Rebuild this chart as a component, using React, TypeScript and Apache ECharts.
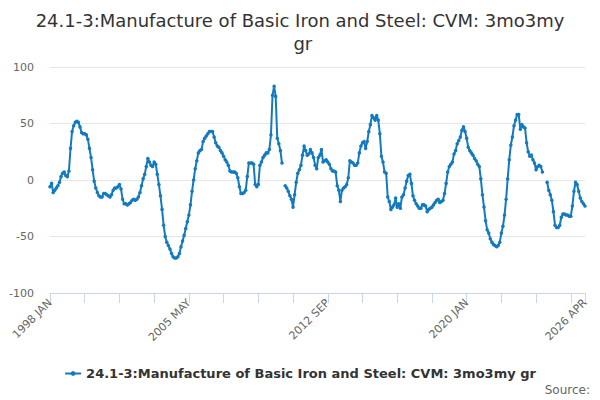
import React, { useEffect, useRef } from "react";
import * as echarts from "echarts";

const MONTHS = ["JAN", "FEB", "MAR", "APR", "MAY", "JUN", "JUL", "AUG", "SEP", "OCT", "NOV", "DEC"];
const START_YEAR = 1998;
const N_MONTHS = 340;
const categories: string[] = [];
for (let k = 0; k < N_MONTHS; k++) {
  categories.push(`${START_YEAR + Math.floor(k / 12)} ${MONTHS[k % 12]}`);
}

const seriesName = "24.1-3:Manufacture of Basic Iron and Steel: CVM: 3mo3my gr";
const titleText = "24.1-3:Manufacture of Basic Iron and Steel: CVM: 3mo3my gr";

const v1998_2002 = [
  -6, -3, -11, -9, -7, -5, -2, 3, 6, 7, 4, 3,
  8, 28, 43, 48, 51, 52, 51, 47, 42, 41, 41, 40,
  36, 28, 20, 9, -1, -7, -11, -14, -15, -15, -12, -12,
  -13, -14, -15, -13, -9, -7, -7, -6, -4, -8, -17, -21,
  -21, -22, -21, -20, -18, -17, -18, -17, -15, -11, -5, 1,
];
const v2003_2007 = [
  5, 12, 19, 16, 13, 12, 16, 14, 5, -4, -14, -26,
  -40, -50, -55, -58, -61, -65, -68, -69, -69, -68, -65, -59,
  -54, -49, -43, -37, -31, -22, -10, 0, 10, 17, 24, 26,
  27, 34, 37, 39, 41, 43, 43, 43, 38, 33, 30, 29,
  26, 24, 21, 18, 16, 13, 8, 7, 7, 7, 6, 2,
];
const v2008_2012 = [
  -6, -12, -12, -11, -9, 3, 15, 15, 15, 14, -4, -6,
  -4, 13, 16, 20, 22, 24, 24, 27, 40, 75, 83, 74,
  37, 32, 26, 15, null, -5, -7, -10, -14, -17, -24, -13,
  -2, 6, 9, 13, 22, 30, 26, 22, 23, 27, 24, 20,
  13, 10, 20, 22, 27, 16, 17, 18, 16, 14, 10, 8,
];
const v2013_2017 = [
  8, 7, -5, -9, -19, -9, -7, -6, -4, 2, 17, 16,
  15, 13, 13, 15, 24, 30, 33, 34, 28, 34, 43, 49,
  57, 55, 53, 57, 53, 41, 21, 16, 7, 6, -15, -19,
  -26, -24, -22, -16, -24, -21, -25, -15, -13, -7, -1, 4,
  5, -3, -14, -18, -21, -23, -25, -25, -22, -22, -23, -28,
];
const v2018_2022 = [
  -26, -25, -24, -22, -20, -18, -17, -20, -19, -18, -12, -3,
  7, 12, 14, 16, 23, 26, 32, 35, 38, 44, 47, 43,
  37, 29, 26, 24, 22, 19, 17, 14, 12, 1, -13, -24,
  -36, -44, -47, -52, -55, -57, -58, -59, -58, -55, -47, -41,
  -31, -17, 1, 18, 31, 38, 48, 53, 58, 58, 45, 49,
];
const v2023_2026 = [
  47, 46, 33, 25, 21, 22, 18, 15, 9, 12, 13, 12,
  7, null, null, -2, -9, -13, -18, -28, -40, -42, -42, -40,
  -33, -30, -30, -31, -31, -32, -32, -23, -10, -2, -4, -10,
  -16, -19, -21, -23,
];

const values: (number | null)[] = [
  ...v1998_2002,
  ...v2003_2007,
  ...v2008_2012,
  ...v2013_2017,
  ...v2018_2022,
  ...v2023_2026,
];

const yTicks = [-100, -50, 0, 50, 100];
const labelIndices = [0, 88, 176, 264, 339];
const TICK_STEP = 22;

const FONT = "DejaVu Sans";

export default function App() {
  const ref = useRef<HTMLDivElement>(null);
  useEffect(() => {
    if (!ref.current) return;
    const chart = echarts.init(ref.current, undefined, { renderer: "svg" });
    const last = categories.length - 1;
    chart.setOption({
      animation: false,
      backgroundColor: "#ffffff",
      title: {
        text: titleText,
        left: "center",
        top: 4,
        textStyle: {
          fontFamily: FONT,
          fontSize: 18,
          fontWeight: "normal",
          color: "#333333",
          width: 530,
          overflow: "break",
          lineHeight: 23,
        },
      },
      legend: {
        top: 362,
        left: "center",
        itemWidth: 16,
        itemHeight: 6,
        itemGap: 10,
        textStyle: {
          fontFamily: FONT,
          fontSize: 13,
          fontWeight: "bold",
          color: "#333333",
        },
        data: [seriesName],
      },
      graphic: [
        {
          type: "text",
          right: 10,
          top: 384,
          style: {
            text: "Source:",
            fontFamily: FONT,
            fontSize: 12,
            fill: "#666666",
          },
        },
      ],
      grid: {
        left: 50,
        right: 15,
        top: 67,
        bottom: 107,
        containLabel: false,
      },
      xAxis: {
        type: "category",
        data: categories,
        boundaryGap: false,
        axisLine: { show: true, onZero: false, lineStyle: { color: "#ccd6eb", width: 1 } },
        axisTick: {
          show: true,
          length: 10,
          interval: (idx: number) => idx % TICK_STEP === 0 || idx === last,
          lineStyle: { color: "#ccd6eb" },
        },
        axisLabel: {
          interval: (idx: number) => labelIndices.includes(idx),
          rotate: 45,
          fontFamily: FONT,
          fontSize: 11,
          color: "#666666",
          margin: 8,
          showMaxLabel: true,
        },
        splitLine: { show: false },
      },
      yAxis: {
        type: "value",
        min: yTicks[0],
        max: yTicks[yTicks.length - 1],
        interval: 50,
        axisLine: { show: false },
        axisTick: { show: false },
        axisLabel: {
          fontFamily: FONT,
          fontSize: 11,
          color: "#666666",
          margin: 16,
        },
        splitLine: { show: true, lineStyle: { color: "#e6e6e6", width: 1 } },
      },
      series: [
        {
          name: seriesName,
          type: "line",
          data: values,
          connectNulls: false,
          symbol: "circle",
          symbolSize: 3.5,
          showSymbol: true,
          showAllSymbol: true,
          itemStyle: { color: "#137ac0" },
          lineStyle: { color: "#137ac0", width: 2 },
        },
      ],
    });
    return () => chart.dispose();
  }, []);
  return (
    <div
      ref={ref}
      style={{ position: "absolute", left: 0, top: 0, width: 600, height: 400 }}
    />
  );
}
